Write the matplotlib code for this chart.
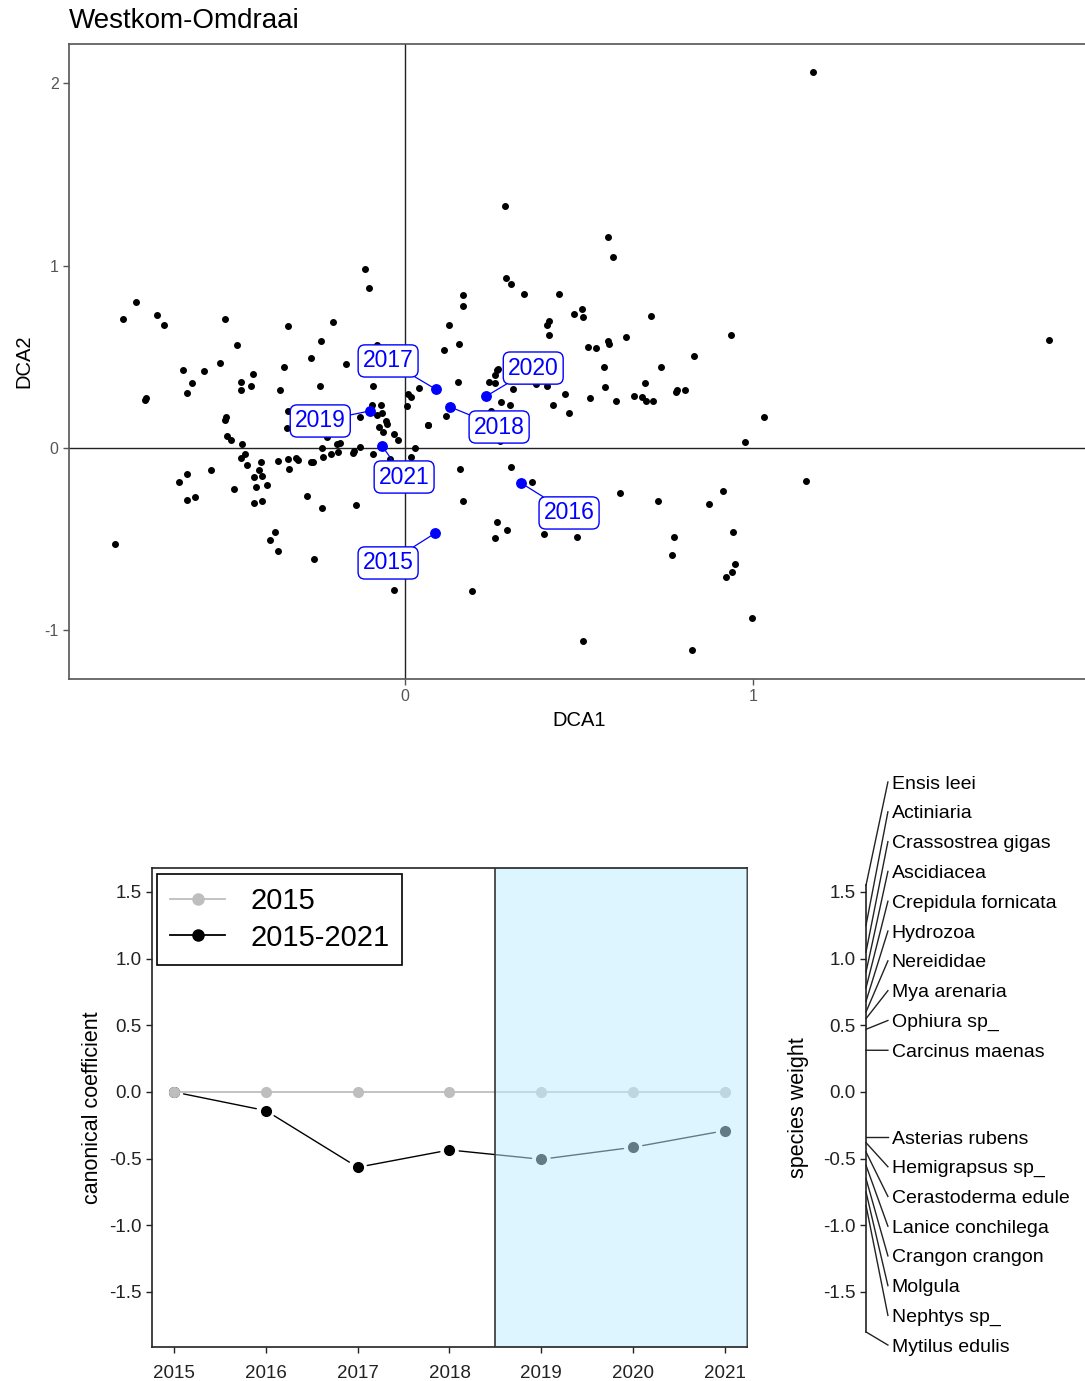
import matplotlib
matplotlib.use("Agg")
import matplotlib.pyplot as plt
from matplotlib.lines import Line2D
from matplotlib.patches import Rectangle

plt.rcParams['font.family'] = ['Liberation Sans', 'DejaVu Sans']

# site scores on the first two DCA axes
dca1 = [
    -0.811, -0.774, -0.712, -0.693, -0.518, -0.482, -0.338, -0.243, -0.208, -0.114,
    -0.103, -0.082, -0.271, -0.639, -0.578, -0.532, -0.348, -0.169, -0.612, -0.626,
    -0.473, -0.473, -0.438, -0.442, -0.361, -0.244, -0.091, -0.745, -0.748, 0.009,
    0.016, 0.004, 0.039, 0.065, -0.516, -0.519, -0.336, -0.340, -0.131, -0.069,
    -0.095, -0.080, -0.067, -0.055, -0.051, -0.076, -0.064, -0.031, -0.022, -0.225,
    -0.511, -0.501, -0.469, -0.186, -0.195, -0.239, -0.130, -0.146, -0.149, -0.193,
    -0.212, -0.235, -0.091, 0.027, 0.017, -0.043, -0.460, -0.472, -0.455, -0.415,
    -0.365, -0.338, -0.314, -0.307, -0.271, -0.266, -0.333, -0.558, -0.419, -0.433,
    -0.410, -0.397, -0.429, -0.493, -0.281, -0.433, -0.410, -0.239, -0.141, -0.627,
    -0.649, -0.626, -0.603, -0.833, -0.374, -0.388, -0.366, -0.261, -0.032,
    0.287, 0.584, 0.598, 0.291, 0.305, 0.341, 0.441, 0.166, 0.166, 0.126,
    0.156, 0.111, 0.413, 0.408, 0.413, 0.485, 0.508, 0.512, 0.706, 0.526,
    0.548, 0.584, 0.587, 0.634, 0.935, 0.831, 1.173, 1.849, 0.571, 0.735,
    0.264, 0.268, 0.259, 0.241, 0.257, 0.152, 0.274, 0.301, 0.311, 0.376,
    0.409, 0.458, 0.426, 0.472, 0.531, 0.575, 0.607, 0.657, 0.688, 0.681,
    0.691, 0.711, 0.777, 0.782, 0.805, 0.116, 0.067, 0.247, 0.273, 1.030,
    0.976, 0.157, 0.305, 0.364, 0.165, 0.616, 0.728, 0.872, 0.912, 0.264,
    0.292, 0.259, 0.399, 0.494, 0.773, 0.768, 0.943, 0.948, 0.939, 0.922,
    0.193, 0.998, 0.511, 0.823, 1.152]
dca2 = [
    0.705, 0.800, 0.727, 0.674, 0.705, 0.563, 0.667, 0.585, 0.689, 0.979,
    0.875, 0.563, 0.492, 0.429, 0.422, 0.466, 0.444, 0.459, 0.355, 0.303,
    0.362, 0.316, 0.405, 0.340, 0.318, 0.340, 0.340, 0.274, 0.263, 0.294,
    0.278, 0.228, 0.327, 0.124, 0.168, 0.153, 0.203, 0.108, 0.168, 0.236,
    0.236, 0.181, 0.190, 0.150, 0.132, 0.117, 0.088, 0.075, 0.042, 0.062,
    0.066, 0.044, 0.020, 0.029, 0.022, -0.002, 0.007, -0.016, -0.026, -0.022,
    -0.033, -0.048, -0.033, -0.002, -0.048, -0.060, -0.031, -0.056, -0.092, -0.077,
    -0.071, -0.062, -0.055, -0.067, -0.077, -0.077, -0.113, -0.121, -0.122, -0.157,
    -0.153, -0.201, -0.212, -0.225, -0.263, -0.300, -0.292, -0.329, -0.312, -0.144,
    -0.188, -0.285, -0.268, -0.528, -0.462, -0.506, -0.566, -0.610, -0.780,
    1.328, 1.158, 1.045, 0.933, 0.897, 0.844, 0.844, 0.837, 0.778, 0.674,
    0.570, 0.539, 0.698, 0.674, 0.621, 0.734, 0.763, 0.718, 0.725, 0.555,
    0.548, 0.588, 0.570, 0.607, 0.621, 0.504, 2.062, 0.592, 0.444, 0.444,
    0.427, 0.435, 0.400, 0.362, 0.358, 0.362, 0.250, 0.234, 0.323, 0.352,
    0.340, 0.294, 0.236, 0.190, 0.274, 0.333, 0.258, 0.287, 0.355, 0.279,
    0.259, 0.259, 0.305, 0.318, 0.318, 0.177, 0.128, 0.203, 0.038, 0.168,
    0.035, -0.113, -0.106, -0.188, -0.292, -0.248, -0.292, -0.307, -0.234, -0.404,
    -0.448, -0.493, -0.470, -0.486, -0.486, -0.588, -0.462, -0.634, -0.678, -0.708,
    -0.782, -0.930, -1.058, -1.108, -0.182]

# year centroids
years = [2015, 2016, 2017, 2018, 2019, 2020, 2021]
year_dca1 = [0.087, 0.334, 0.088, 0.128, -0.101, 0.232, -0.067]
year_dca2 = [-0.466, -0.193, 0.322, 0.226, 0.203, 0.283, 0.013]

# canonical coefficients per year
coef_ref = [0.0, 0.0, 0.0, 0.0, 0.0, 0.0, 0.0]
coef_all = [0.0, -0.140, -0.565, -0.435, -0.505, -0.415, -0.290]

species = ["Ensis leei", "Actiniaria", "Crassostrea gigas", "Ascidiacea",
           "Crepidula fornicata", "Hydrozoa", "Nereididae", "Mya arenaria",
           "Ophiura sp_", "Carcinus maenas", "Asterias rubens", "Hemigrapsus sp_",
           "Cerastoderma edule", "Lanice conchilega", "Crangon crangon",
           "Molgula", "Nephtys sp_", "Mytilus edulis"]
weights = [1.55, 1.25, 1.05, 0.90, 0.78, 0.68, 0.60, 0.55, 0.47, 0.313,
           -0.338, -0.38, -0.45, -0.55, -0.65, -0.75, -0.85, -1.80]

# where the year labels sit (repelled away from the points)
label_xy = [(-0.049, -0.630), (0.471, -0.356), (-0.049, 0.477), (0.270, 0.115),
            (-0.244, 0.148), (0.368, 0.438), (-0.003, -0.159)]

W, H = 1085, 1381
fig = plt.figure(figsize=(W / 100, H / 100), dpi=100)
fig.patch.set_facecolor("white")

def box(l, t, r, b):
    return [l / W, 1 - b / H, (r - l) / W, (b - t) / H]

# ---- DCA ordination ----
ax = fig.add_axes(box(69, 44, 1090, 679))
ax.set_xlim(-0.966, 1.968)
ax.set_ylim(-1.266, 2.214)
ax.axhline(0, color="#222222", lw=1.0, zorder=1)
ax.axvline(0, color="#222222", lw=1.0, zorder=1)
ax.plot(dca1, dca2, "o", color="black", ms=4.0, zorder=2)
ax.plot(year_dca1, year_dca2, "o", color="blue", ms=6.8, zorder=3)
for yr, px, py, (lx, ly) in zip(years, year_dca1, year_dca2, label_xy):
    ax.annotate(str(yr), xy=(px, py), xytext=(lx, ly), ha="center", va="center",
                color="blue", fontsize=16.5,
                bbox=dict(boxstyle="round,pad=0.2,rounding_size=0.3", fc="white",
                          ec="blue", lw=1.0),
                arrowprops=dict(arrowstyle="-", color="blue", lw=0.9,
                                shrinkA=0, shrinkB=2), zorder=4)
ax.set_xticks([0, 1])
ax.set_yticks([-1, 0, 1, 2])
ax.set_xticklabels(["0", "1"])
ax.set_yticklabels(["-1", "0", "1", "2"])
ax.tick_params(colors="#555555", labelsize=11.5, length=4, width=1)
for s in ["left", "bottom", "top"]:
    ax.spines[s].set_color("#555555")
    ax.spines[s].set_linewidth(1.2)
ax.spines["right"].set_visible(False)
ax.set_xlabel("DCA1", fontsize=14.5, labelpad=5)
ax.set_ylabel("DCA2", fontsize=14.5, labelpad=8)
fig.text(69 / W, 1 - 21 / H, "Westkom-Omdraai", fontsize=20, va="center", ha="left")

# ---- canonical coefficients ----
bx = fig.add_axes(box(152, 868, 747, 1347))
bx.set_xlim(2014.76, 2021.24)
bx.set_ylim(-1.913, 1.680)
bx.plot(years, coef_ref, "-", color="#bebebe", lw=1.3, zorder=2)
for i in range(len(years) - 1):
    bx.annotate("", xy=(years[i + 1], coef_all[i + 1]), xytext=(years[i], coef_all[i]),
                arrowprops=dict(arrowstyle="-", color="black", lw=1.0,
                                shrinkA=7, shrinkB=7), zorder=2)
bx.plot(years, coef_all, "o", color="black", ms=7, zorder=3)
bx.plot(years, coef_ref, "o", color="#bebebe", ms=7, zorder=4)
bx.add_patch(Rectangle((2018.5, -1.913), 3.0, 3.593, facecolor=(0.75, 0.93, 1.0, 0.52),
                       edgecolor="#333333", lw=1.2, zorder=5))
bx.set_xticks(years)
bx.set_yticks([-1.5, -1.0, -0.5, 0.0, 0.5, 1.0, 1.5])
bx.set_yticklabels(["-1.5", "-1.0", "-0.5", "0.0", "0.5", "1.0", "1.5"])
bx.tick_params(labelsize=13.5, length=4, width=1, colors="#222222")
bx.tick_params(axis="x", pad=9)
for s in bx.spines.values():
    s.set_color("#222222")
    s.set_linewidth(1.2)
bx.set_ylabel("canonical coefficient", fontsize=15.5, labelpad=4)
handles = [Line2D([], [], color="#bebebe", marker="o", ms=8, lw=1.3),
           Line2D([], [], color="black", marker="o", ms=8, lw=1.3)]
leg = bx.legend(handles, ["2015", "2015-2021"], loc="upper left",
                bbox_to_anchor=(0.008, 0.988), borderaxespad=0, fontsize=21,
                fancybox=False, framealpha=1, edgecolor="black", handlelength=1.9,
                handletextpad=0.85, labelspacing=0.3, borderpad=0.45)
leg.get_frame().set_linewidth(1.2)
leg.set_zorder(6)

# ---- species weights ----
cx = fig.add_axes(box(866, 868, 1085, 1347))
cx.set_xlim(0, 1)
cx.set_ylim(-1.913, 1.680)
for s in ["top", "right", "bottom"]:
    cx.spines[s].set_visible(False)
cx.spines["left"].set_bounds(min(weights), max(weights))
cx.spines["left"].set_color("#222222")
cx.spines["left"].set_linewidth(1.2)
cx.set_xticks([])
cx.set_yticks([-1.5, -1.0, -0.5, 0.0, 0.5, 1.0, 1.5])
cx.set_yticklabels(["-1.5", "-1.0", "-0.5", "0.0", "0.5", "1.0", "1.5"])
cx.tick_params(labelsize=13.5, length=4, width=1, colors="#222222")
cx.set_ylabel("species weight", fontsize=15.5, labelpad=10)

# labels are spread out evenly above and below zero
pos = [w for w in weights if w > 0]
neg = [w for w in weights if w <= 0]
lab_y = [2.325 - 0.2236 * i for i in range(len(pos))] + \
        [-0.338 - 0.2229 * i for i in range(len(neg))]
for name, w, ly in zip(species, weights, lab_y):
    cx.plot([0, 0.1], [w, ly], color="#222222", lw=1.0, clip_on=False)
    cx.text(0.118, ly - 0.015, name, fontsize=14, va="center", ha="left",
            clip_on=False)

fig.savefig("out.png", dpi=100, facecolor="white")
